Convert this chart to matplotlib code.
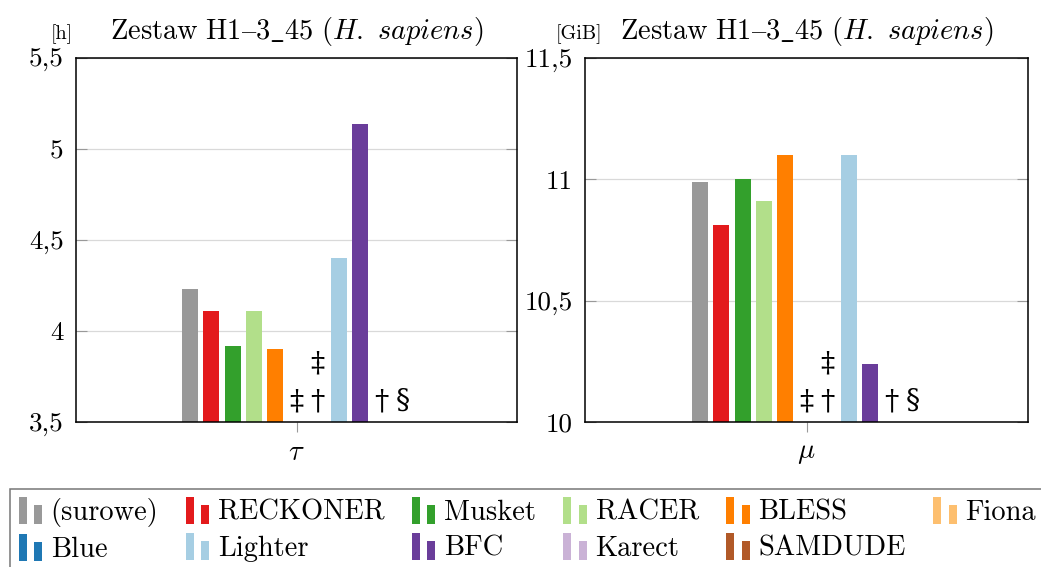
import matplotlib
matplotlib.use("Agg")
import matplotlib.pyplot as plt
from matplotlib.legend_handler import HandlerBase
from matplotlib.patches import Rectangle, Patch

plt.rcParams['font.family'] = ['cmr10', 'DejaVu Serif']
plt.rcParams['mathtext.fontset'] = 'cm'
plt.rcParams['axes.formatter.use_mathtext'] = True

tools = ["(surowe)", "RECKONER", "Musket", "RACER", "BLESS", "Fiona",
         "Blue", "Lighter", "BFC", "Karect", "SAMDUDE"]
colors = ["#999999", "#e31a1c", "#33a02c", "#b2df8a", "#ff7f00", "#fdbf6f",
          "#1f78b4", "#a6cee3", "#6a3d9a", "#cab2d6", "#b15928"]

# None = no result, marks explain why
time_h = [4.23, 4.11, 3.92, 4.11, 3.90, None, None, 4.40, 5.14, None, None]
mem_gib = [10.99, 10.81, 11.00, 10.91, 11.10, None, None, 11.10, 10.24, None, None]
notes = ["", "", "", "", "", "‡", "†‡", "", "", "†", "§"]

title = r"$\mathrm{Zestaw\ H1–3\_45\ (}\mathit{H.\ sapiens}\mathrm{)}$"
time_ticks = [3.5, 4, 4.5, 5, 5.5]
time_labels = ["3,5", "4", "4,5", "5", "5,5"]
mem_ticks = [10, 10.5, 11, 11.5]
mem_labels = ["10", "10,5", "11", "11,5"]

W, H = 1041, 567
fig = plt.figure(figsize=(W / 100, H / 100), dpi=100)
fs = 20.5
step = 21.3  # px between bar centres


def draw_panel(rect, vals, ticks, labels, unit, unit_dx, xlab):
    ax = fig.add_axes([rect[0] / W, 1 - (rect[1] + rect[3]) / H, rect[2] / W, rect[3] / H])
    n = len(vals)
    pos = [i - (n - 1) / 2 for i in range(n)]
    for p, v, c, note in zip(pos, vals, colors, notes):
        if v is not None:
            ax.bar(p, v - ticks[0], bottom=ticks[0], width=0.75, color=c, zorder=2)
        for k, ch in enumerate(note):
            ax.annotate(ch, (p, ticks[0]), xytext=(0, 5 + 27 * k), textcoords="offset points",
                        ha="center", va="bottom", fontsize=fs, family="DejaVu Serif")
    half = rect[2] / 2 / step
    ax.set_xlim(-half, half)
    ax.set_ylim(ticks[0], ticks[-1])
    ax.set_yticks(ticks)
    ax.set_yticklabels(labels, fontsize=19.5)
    ax.set_xticks([0])
    ax.set_xticklabels([xlab], fontsize=fs)
    ax.tick_params(axis="y", direction="in", length=8, color="#999999", left=True, right=True, pad=9)
    ax.tick_params(axis="x", direction="out", length=7, color="#999999", pad=6)
    ax.grid(axis="y", color="#d9d9d9", lw=0.9, zorder=0)
    for s in ax.spines.values():
        s.set_linewidth(1.1)
    ax.text(0.5, 1 + 19 / rect[3], title, transform=ax.transAxes, ha="center", va="baseline", fontsize=fs)
    ax.text(unit_dx / rect[2], 1 + 19 / rect[3], unit, transform=ax.transAxes,
            ha="center", va="baseline", fontsize=14.5)
    return ax


draw_panel((76, 58, 441, 364), time_h, time_ticks, time_labels, "[h]", -14, "$\\tau$")
draw_panel((585, 58, 443, 364), mem_gib, mem_ticks, mem_labels, "[GiB]", -6, "$\\mu$")


class TwoBars(HandlerBase):
    def create_artists(self, legend, orig, xd, yd, w, h, fontsize, trans):
        c = orig.get_facecolor()
        bw = w * 0.33
        r1 = Rectangle((-xd, -yd - 3), bw, h + 5, fc=c, ec="none", transform=trans)
        r2 = Rectangle((-xd + w * 0.64, -yd - 3), bw, h * 0.72 + 3, fc=c, ec="none", transform=trans)
        return [r1, r2]


handles = [Patch(facecolor=c) for c in colors]
order = [0, 6, 1, 7, 2, 8, 3, 9, 4, 10, 5]
leg = fig.legend([handles[i] for i in order], [tools[i] for i in order],
                 loc="upper left", bbox_to_anchor=(10 / W, 1 - 489 / H), ncol=6,
                 fontsize=fs, frameon=True, fancybox=False, edgecolor="#555555",
                 handler_map={Patch: TwoBars()}, handlelength=0.85, handleheight=0.7,
                 handletextpad=0.28, columnspacing=0.96, labelspacing=0.35,
                 borderpad=0.3, borderaxespad=0)
leg.get_frame().set_linewidth(1.1)

fig.savefig("out.png", dpi=100)
